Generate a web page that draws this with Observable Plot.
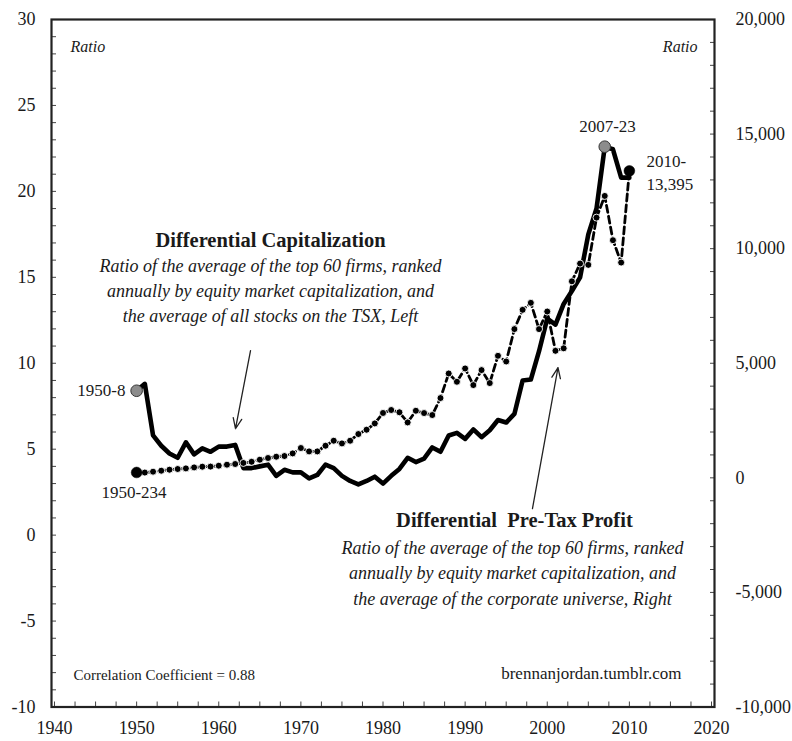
<!DOCTYPE html>
<html><head><meta charset="utf-8">
<script src="https://cdn.jsdelivr.net/npm/d3@7"></script>
<script src="https://cdn.jsdelivr.net/npm/@observablehq/plot@0.6"></script>
<style>
html,body{margin:0;padding:0;background:#fff;}
svg{display:block;}
</style>
</head><body>
<div id="chart"></div>
<script>
// ---- data ----
const years = d3.range(1950, 2011);
// Differential capitalization (left axis, ratio)
const diffCap = [
  8.4, 8.8, 5.8, 5.2, 4.75, 4.5, 5.4, 4.7, 5.05, 4.85,
  5.15, 5.15, 5.25, 3.9, 3.9, 4.0, 4.1, 3.45, 3.8, 3.65,
  3.65, 3.3, 3.5, 4.1, 3.9, 3.45, 3.15, 2.95, 3.15, 3.4,
  3.0, 3.45, 3.85, 4.5, 4.25, 4.45, 5.1, 4.85, 5.8, 5.95,
  5.6, 6.15, 5.7, 6.1, 6.7, 6.55, 7.05, 9.0, 9.05, 10.7,
  12.6, 12.25, 13.45, 14.2, 15.0, 17.5, 19.0, 22.6, 22.45, 20.8, 20.8
];
// Differential pre-tax profit (right axis, ratio)
const diffProfit = [
  234, 230, 268, 311, 355, 385, 412, 455, 486, 490,
  529, 573, 603, 650, 700, 791, 865, 922, 952, 1066,
  1301, 1153, 1153, 1401, 1619, 1502, 1619, 1911, 2099, 2374,
  2830, 2960, 2860, 2417, 2927, 2827, 2740, 3481, 4554, 4192,
  4772, 4048, 4702, 4135, 5325, 5077, 6490, 7331, 7636, 6490,
  7257, 5543, 5652, 8575, 9350, 9293, 11355, 12301, 10370, 9393, 13395
];
const capHighlightYears = [1950, 2007];
const profitHighlightYears = [1950, 2010];

const leftTicks = [-10, -5, 0, 5, 10, 15, 20, 25, 30];
const rightTicks = [-10000, -5000, 0, 5000, 10000, 15000, 20000];
const xTicks = [1940, 1950, 1960, 1970, 1980, 1990, 2000, 2010, 2020];
const leftMinor = d3.range(-10, 30.01, 1);
const rightMinor = d3.range(-10000, 20000.1, 1000);
const xMinor = d3.range(1940, 2020.01, 2.5);

// annotations (data coordinates, left scale)
const annotations = [
  {text: "Ratio", x: 1941.95, y: 28.4, anchor: "start", size: 16, style: "italic", weight: "normal"},
  {text: "Ratio", x: 2018.3, y: 28.4, anchor: "end", size: 16, style: "italic", weight: "normal"},
  {text: "Differential Capitalization", x: 1966.3, y: 17.12, anchor: "middle", size: 20.5, style: "normal", weight: "bold"},
  {text: "Ratio of the average of the top 60 firms, ranked", x: 1966.3, y: 15.67, anchor: "middle", size: 18, style: "italic", weight: "normal"},
  {text: "annually by equity market capitalization, and", x: 1966.3, y: 14.21, anchor: "middle", size: 18, style: "italic", weight: "normal"},
  {text: "the average of all stocks on the TSX, Left", x: 1966.3, y: 12.76, anchor: "middle", size: 18, style: "italic", weight: "normal"},
  {text: "Differential\u00a0 Pre-Tax Profit", x: 1996.0, y: 0.84, anchor: "middle", size: 20.5, style: "normal", weight: "bold"},
  {text: "Ratio of the average of the top 60 firms, ranked", x: 1995.77, y: -0.78, anchor: "middle", size: 18, style: "italic", weight: "normal"},
  {text: "annually by equity market capitalization, and", x: 1995.77, y: -2.24, anchor: "middle", size: 18, style: "italic", weight: "normal"},
  {text: "the average of the corporate universe, Right", x: 1995.77, y: -3.75, anchor: "middle", size: 18, style: "italic", weight: "normal"},
  {text: "1950-8", x: 1948.65, y: 8.4, anchor: "end", size: 17, style: "normal", weight: "normal"},
  {text: "1950-234", x: 1949.68, y: 2.47, anchor: "middle", size: 17, style: "normal", weight: "normal"},
  {text: "2007-23", x: 2007.34, y: 23.8, anchor: "middle", size: 17, style: "normal", weight: "normal"},
  {text: "2010-", x: 2012.09, y: 21.72, anchor: "start", size: 17, style: "normal", weight: "normal"},
  {text: "13,395", x: 2012.09, y: 20.38, anchor: "start", size: 17, style: "normal", weight: "normal"},
  {text: "Correlation Coefficient = 0.88", x: 1942.31, y: -8.17, anchor: "start", size: 15, style: "normal", weight: "normal"},
  {text: "brennanjordan.tumblr.com", x: 2016.35, y: -8.05, anchor: "end", size: 17, style: "normal", weight: "normal"}
];
const arrows = [
  {x1: 1963.87, y1: 10.73, x2: 1962.04, y2: 6.19},
  {x1: 1998.2, y1: 1.54, x2: 2001.31, y2: 9.74}
];

// ---- helpers ----
const RIGHT_MIN = -10000, RIGHT_MAX = 20000, LEFT_MIN = -10, LEFT_MAX = 30;
const toLeft = v => LEFT_MIN + (v - RIGHT_MIN) * (LEFT_MAX - LEFT_MIN) / (RIGHT_MAX - RIGHT_MIN);
const fromLeft = d => RIGHT_MIN + (d - LEFT_MIN) * (RIGHT_MAX - RIGHT_MIN) / (LEFT_MAX - LEFT_MIN);
const fmtNum = v => { const r = Math.round(v); return (r < 0 ? "-" : "") + d3.format(",")(Math.abs(r)); };

const data = years.map((year, i) => ({year, cap: diffCap[i], profit: diffProfit[i]}));
const capHi = data.filter(d => capHighlightYears.includes(d.year));
const profitHi = data.filter(d => profitHighlightYears.includes(d.year));

const FONT = "'Liberation Serif', 'DejaVu Serif', serif";
const INK = "#1a1a1a";

const textMarks = annotations.map(a => Plot.text([a], {
  x: "x", y: "y", text: "text", textAnchor: a.anchor, fontSize: a.size,
  fontStyle: a.style, fontWeight: a.weight, fill: INK
}));

const chart = Plot.plot({
  width: 792,
  height: 741,
  marginLeft: 51,
  marginRight: 78,
  marginTop: 19,
  marginBottom: 34.5,
  insetLeft: 3,
  insetRight: 3,
  style: {fontFamily: FONT, fontSize: "18px", color: INK, background: "#fff"},
  x: {domain: [1940, 2020], label: null},
  y: {domain: [LEFT_MIN, LEFT_MAX], label: null},
  marks: [
    // axes labels
    Plot.axisY(leftTicks, {anchor: "left", tickSize: 0, tickPadding: 16, fontSize: 18, label: null,
      tickFormat: fmtNum, fill: INK}),
    Plot.axisY(rightTicks.map(toLeft), {anchor: "right", tickSize: 0, tickPadding: 21, fontSize: 18, label: null,
      tickFormat: d => fmtNum(fromLeft(d)), fill: INK}),
    Plot.axisX(xTicks, {anchor: "bottom", tickSize: 0, tickPadding: 14, fontSize: 18, label: null,
      tickFormat: d => String(d), fill: INK}),
    // inside minor ticks
    Plot.axisY(leftMinor, {anchor: "left", tickSize: 5, dx: 5, tickFormat: () => "", label: null, stroke: "#444"}),
    Plot.axisY(rightMinor.map(toLeft), {anchor: "right", tickSize: 5, dx: -5, tickFormat: () => "", label: null, stroke: "#444"}),
    Plot.axisX(xMinor, {anchor: "bottom", tickSize: 5, dy: -5, tickFormat: () => "", label: null, stroke: "#444"}),
    // frame
    Plot.frame({stroke: "#222", strokeWidth: 2.2}),
    // differential capitalization (left)
    Plot.line(data, {x: "year", y: "cap", stroke: "#000", strokeWidth: 4.6, strokeLinejoin: "round", strokeLinecap: "round"}),
    Plot.dot(capHi, {x: "year", y: "cap", r: 5.8, fill: "#8c8c8c", stroke: "#333", strokeWidth: 1}),
    // differential pre-tax profit (right)
    Plot.line(data, {x: "year", y: d => toLeft(d.profit), stroke: "#000", strokeWidth: 2.8, strokeDasharray: "7,4"}),
    Plot.dot(data, {x: "year", y: d => toLeft(d.profit), r: 3.5, fill: "#000", stroke: "#fff", strokeWidth: 0.9}),
    Plot.dot(profitHi, {x: "year", y: d => toLeft(d.profit), r: 5.4, fill: "#000", stroke: "#000", strokeWidth: 0.5}),
    // arrows
    Plot.arrow(arrows, {x1: "x1", y1: "y1", x2: "x2", y2: "y2", stroke: "#222", strokeWidth: 1.3, headLength: 13, headAngle: 45}),
    ...textMarks
  ]
});
document.getElementById("chart").appendChild(chart);
</script>
</body></html>
